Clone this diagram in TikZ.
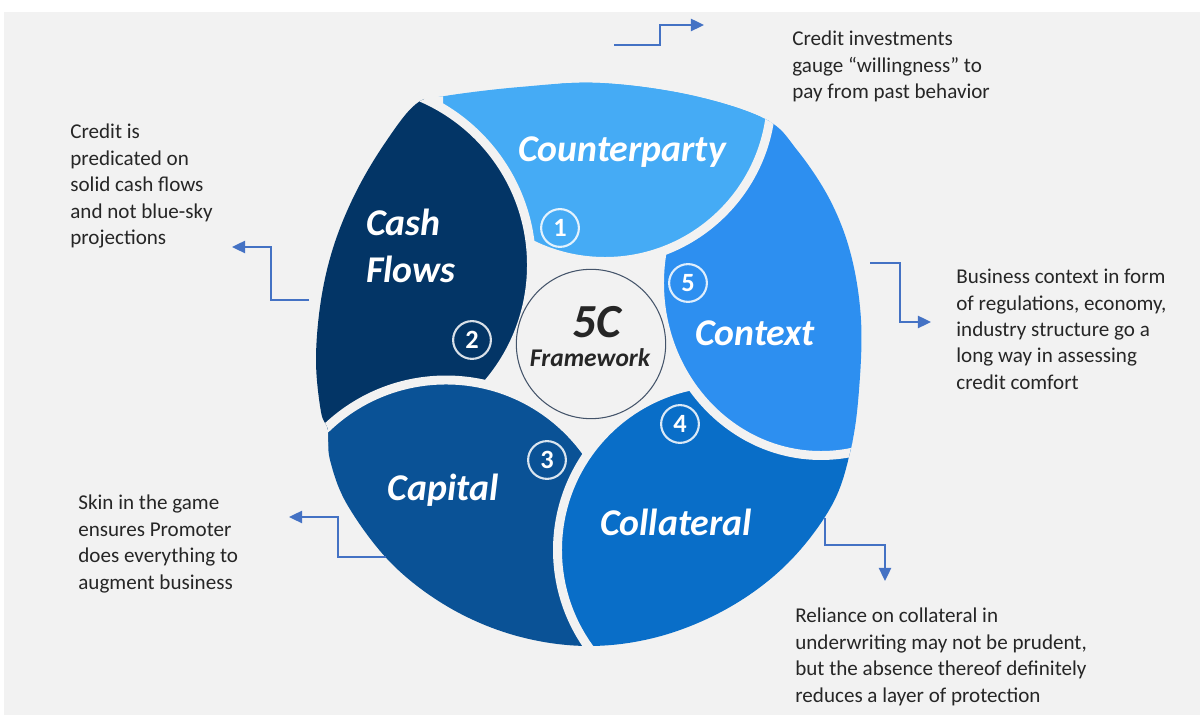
\documentclass[tikz,border=0pt]{standalone}
\usepackage{fontspec}
\setmainfont{Carlito}
\usepackage{tikz}
\usetikzlibrary{arrows.meta,positioning}

\definecolor{pagegray}{HTML}{F2F2F2}
\definecolor{linkblue}{HTML}{4472C4}
\definecolor{inkgray}{HTML}{262626}
\definecolor{hubline}{HTML}{44546A}
\definecolor{counterpartyblue}{HTML}{45ABF5}
\definecolor{contextblue}{HTML}{2D8FF0}
\definecolor{collateralblue}{HTML}{096EC8}
\definecolor{capitalblue}{HTML}{0A5296}
\definecolor{cashflowblue}{HTML}{033566}

% outer rim of the wheel
\def\wheelrim{plot[smooth cycle, tension=0.6] coordinates {
  (445,96) (520,87) (600,83) (690,95) (765,119)
  (797,150) (830,200) (851,255) (861,320) (859,390) (851,448)
  (832,505) (788,563) (730,607) (661,636) (589,646)
  (517,636) (450,608) (392,564) (348,506) (330,460) (328,430)
  (321,412) (316,360) (321,300) (334,245) (356,192) (385,143) (416,104)}}

\begin{document}
\begin{tikzpicture}[x=0.02cm, y=-0.02cm,
    petal/.style = {draw=pagegray, line width=5.1pt},
    petallabel/.style = {text=white, inner sep=0pt,
        font=\fontsize{21.5}{27}\selectfont\bfseries\itshape},
    badge/.style = {circle, draw=white, draw opacity=0.85, line width=1.2pt,
        minimum size=21.5pt, inner sep=0pt, text=white,
        font=\fontsize{15}{15}\selectfont\bfseries},
    hub/.style = {circle, fill=pagegray, draw=hubline, line width=0.6pt, minimum size=85pt},
    note/.style = {text=inkgray, align=left, anchor=north west, inner sep=0pt,
        font=\fontsize{12}{15}\selectfont},
    link/.style = {draw=linkblue, line width=1.1pt, -{Triangle[length=7.5pt, width=7pt]}},
  ]
  \useasboundingbox (0,0) rectangle (1200,715);
  \fill[white] (0,0) rectangle (1200,715);
  \fill[pagegray] (4,12) rectangle (1200,715);

  % the five petals, each one tucked under the next
  \begin{scope}
    \clip \wheelrim;
    \filldraw[petal, fill=counterpartyblue] (605,95) circle[radius=166.5];
    \filldraw[petal, fill=cashflowblue] (349,265) circle[radius=182.5];
    \filldraw[petal, fill=capitalblue] (446,553) circle[radius=173];
    \filldraw[petal, fill=collateralblue] (725,550) circle[radius=167.5];
    \filldraw[petal, fill=contextblue] (821,283) ellipse[x radius=161.5, y radius=172.5];
    % counterparty goes over context again
    \begin{scope}
      \clip (560,0) rectangle (900,300);
      \filldraw[petal, fill=counterpartyblue] (605,95) circle[radius=166.5];
    \end{scope}
  \end{scope}

  % hub
  \node[hub] (hub) at (591,344) {};
  \node[text=inkgray, font=\fontsize{27}{27}\selectfont\bfseries\itshape] (hub-title) at (597,322) {5C};
  \node[text=inkgray, font=\fontsize{14.5}{15}\selectfont\bfseries\itshape] (hub-sub) at (590,358) {Framework};

  % petal names
  \node[petallabel] (cp-label) at (622,152) {Counterparty};
  \node[petallabel, align=left, anchor=west] (cf-label) at (366,246) {Cash\\Flows};
  \node[petallabel] (cap-label) at (443,490) {Capital};
  \node[petallabel] (col-label) at (676,522) {Collateral};
  \node[petallabel] (ctx-label) at (755,333) {Context};

  % numbers
  \node[badge] (b1) at (560,228) {1};
  \node[badge] (b2) at (472,340) {2};
  \node[badge] (b3) at (547,460) {3};
  \node[badge] (b4) at (680,424) {4};
  \node[badge] (b5) at (688,283) {5};

  % side notes
  \node[note] (cp-note) at (792,31) {Credit investments\\gauge “willingness” to\\pay from past behavior};
  \node[note] (cf-note) at (70,124) {Credit is\\predicated on\\solid cash flows\\and not blue-sky\\projections};
  \node[note] (ctx-note) at (956,269) {Business context in form\\of regulations, economy,\\industry structure go a\\long way in assessing\\credit comfort};
  \node[note] (cap-note) at (78,495) {Skin in the game\\ensures Promoter\\does everything to\\augment business};
  \node[note] (col-note) at (795,608) {Reliance on collateral in\\underwriting may not be prudent,\\but the absence thereof definitely\\reduces a layer of protection};

  % elbow arrows
  \coordinate (cp-out) at (614,45);
  \coordinate (cp-tip) at (704,25);
  \coordinate (cf-out) at (309,300);
  \coordinate (cf-tip) at (232,247);
  \coordinate (ctx-out) at (870,263);
  \coordinate (ctx-tip) at (931,322);
  \coordinate (cap-out) at (386,557);
  \coordinate (cap-tip) at (289,517);
  \coordinate (col-out) at (825,518);
  \coordinate (col-tip) at (885,581);
  \draw[link] (cp-out) -- ++(46,0) |- (cp-tip);
  \draw[link] (cf-out) -- ++(-38,0) |- (cf-tip);
  \draw[link] (ctx-out) -- ++(30,0) |- (ctx-tip);
  \draw[link] (cap-out) -- ++(-48,0) |- (cap-tip);
  \draw[link] (col-out) -- ++(0,27) -| (col-tip);
\end{tikzpicture}
\end{document}
